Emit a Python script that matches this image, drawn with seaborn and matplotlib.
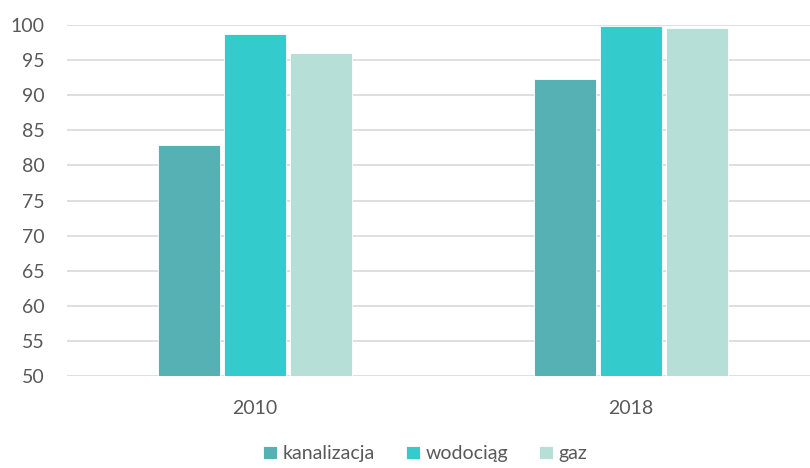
import pandas as pd
import matplotlib.pyplot as plt
import seaborn as sns

years = ["2010", "2018"]
series = ["kanalizacja", "wodociąg", "gaz"]
kanalizacja = [82.9, 92.3]
wodociag = [98.7, 99.9]
gaz = [96.0, 99.6]
y_ticks = list(range(50, 101, 5))

colors = ["#56B1B5", "#33CBCC", "#B6E0D7"]
text_color = "#595959"

df = pd.DataFrame({
    "rok": years * 3,
    "seria": [s for s in series for _ in years],
    "wartosc": kanalizacja + wodociag + gaz,
})

sns.set_style("white")
plt.rcParams["font.family"] = ["Lato", "DejaVu Sans"]

fig = plt.figure(figsize=(8.1, 4.68), dpi=100)
ax = fig.add_axes([67 / 810, 1 - 376 / 468, 1 - 67 / 810, (376 - 25) / 468])

sns.barplot(data=df, x="rok", y="wartosc", hue="seria", hue_order=series,
            palette=colors, saturation=1, width=0.524, gap=0.06, ax=ax,
            edgecolor="white", linewidth=0.6, legend=True)

ax.set_ylim(50, 100)
ax.set_xlim(-0.5, 1 + (810 - 631) / 376)
ax.set_yticks(y_ticks)
ax.yaxis.grid(True, color="#D9D9D9", linewidth=1.2)
ax.set_axisbelow(True)
for s in ax.spines.values():
    s.set_visible(False)
ax.set_xlabel("")
ax.set_ylabel("")
ax.tick_params(axis="y", length=0, pad=16, labelsize=14, labelcolor=text_color)
ax.tick_params(axis="x", length=0, pad=17, labelsize=14, labelcolor=text_color)

# legend sits at the very bottom edge like the original
handles, labels = ax.get_legend_handles_labels()
ax.legend_.remove()
fig.legend(handles, labels, loc="center", bbox_to_anchor=(0.525, 0.03),
           ncol=3, frameon=False, fontsize=14, labelcolor=text_color,
           handlelength=0.7, handleheight=0.7, handletextpad=0.3,
           columnspacing=1.6)

fig.savefig("out.png", dpi=100)
